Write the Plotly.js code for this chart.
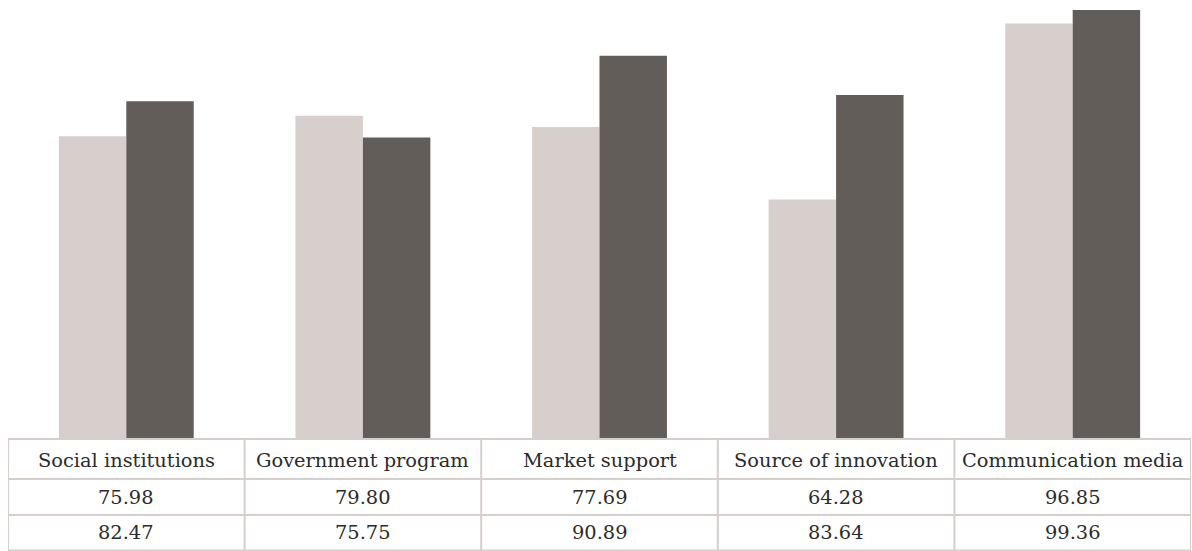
<!DOCTYPE html>
<html>
<head>
<meta charset="utf-8">
<script src="https://cdn.plot.ly/plotly-3.0.1.min.js"></script>
<style>
html,body{margin:0;padding:0;background:#fff;}
#chart{width:1192px;height:551px;}
</style>
</head>
<body>
<div id="chart"></div>
<script>
const categories = ["Social institutions", "Government program", "Market support", "Source of innovation", "Communication media"];
const series1 = [75.98, 79.80, 77.69, 64.28, 96.85];
const series2 = [82.47, 75.75, 90.89, 83.64, 99.36];

const lightColor = "#d6cfcc";
const darkColor = "#635d59";
const lineColor = "#d6cecb";
const textColor = "#2b2b2b";
const serif = "DejaVu Serif";
const baseSize = 19.4;
const targetWidth = 176; // pixel width of "Social institutions" in the reference
const H = 551;
const tableTop = 112 / H;
const rowLines = [112 / H, 72 / H, 36 / H, 0.5 / H];
const rowCenters = [91 / H, 54 / H, 19 / H];

const bar1 = {type: "bar", x: categories, y: series1, marker: {color: lightColor}, hoverinfo: "skip"};
const bar2 = {type: "bar", x: categories, y: series2, marker: {color: darkColor}, hoverinfo: "skip"};

const shapes = [];
rowLines.forEach(y => shapes.push({type: "line", xref: "paper", yref: "paper", x0: 0, x1: 1, y0: y, y1: y, line: {color: lineColor, width: 2}}));
for (let i = 0; i <= categories.length; i++) {
  shapes.push({type: "line", xref: "x", yref: "paper", x0: i - 0.5, x1: i - 0.5, y0: 0, y1: tableTop, line: {color: lineColor, width: 2}});
}

const annotations = [];
const rows = [categories, series1.map(v => v.toFixed(2)), series2.map(v => v.toFixed(2))];
rows.forEach((row, r) => {
  row.forEach((txt, i) => {
    annotations.push({
      text: txt, x: categories[i], xref: "x", y: rowCenters[r], yref: "paper",
      xanchor: "center", yanchor: "middle", showarrow: false,
      font: {family: serif, size: baseSize, color: textColor}
    });
  });
});

const layout = {
  width: 1192, height: 551,
  margin: {l: 8, r: 1, t: 0, b: 0},
  paper_bgcolor: "#ffffff", plot_bgcolor: "#ffffff",
  showlegend: false,
  barmode: "group",
  bargap: 0.43,
  bargroupgap: 0,
  font: {family: serif},
  xaxis: {range: [-0.5, 4.5], showticklabels: false, ticks: "", showgrid: false, zeroline: false, showline: false, fixedrange: true},
  yaxis: {domain: [tableTop, 1], range: [20, 101.2], showticklabels: false, ticks: "", showgrid: false, zeroline: false, showline: false, fixedrange: true},
  shapes: shapes,
  annotations: annotations
};

Plotly.newPlot("chart", [bar1, bar2], layout, {displayModeBar: false, staticPlot: true}).then(() => {
  try {
    const t = document.querySelector('#chart .annotation-text');
    const w = t ? t.getComputedTextLength() : 0;
    if (w > 0) {
      let s = baseSize * targetWidth / w;
      s = Math.max(16, Math.min(26, s));
      if (Math.abs(s - baseSize) > 0.4) {
        const upd = {};
        annotations.forEach((a, i) => { upd['annotations[' + i + '].font.size'] = s; });
        Plotly.relayout("chart", upd);
      }
    }
  } catch (e) {}
});
</script>
</body>
</html>
